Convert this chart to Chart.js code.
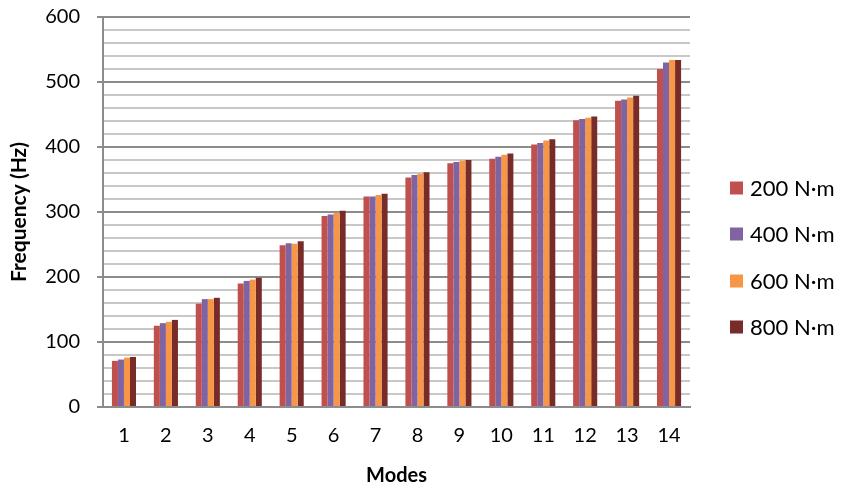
<!DOCTYPE html>
<html>
<head>
<meta charset="utf-8">
<script src="https://cdn.jsdelivr.net/npm/chart.js@4/dist/chart.umd.min.js"></script>
<style>
  body { margin: 0; background: #ffffff; }
  canvas { display: block; }
</style>
</head>
<body>
<canvas id="chart" width="842" height="492"></canvas>
<script>
const MODES = ['1','2','3','4','5','6','7','8','9','10','11','12','13','14'];
const TORQUES = ['200 N·m', '400 N·m', '600 N·m', '800 N·m'];

const F_200 = [71, 125, 159, 190, 249, 294, 324, 353, 375, 382, 404, 441, 471, 520];
const F_400 = [73, 129, 166, 194, 252, 296, 324, 357, 377, 385, 406, 443, 473, 530];
const F_600 = [76, 131, 166, 196, 251, 299, 326, 359, 379, 388, 410, 445, 476, 534];
const F_800 = [77, 134, 168, 199, 255, 302, 328, 361, 380, 390, 412, 447, 479, 534];

const COLORES = ['#c0504d', '#8064a2', '#f79646', '#772c2a'];

const FUENTE = "Lato, 'Noto Sans', sans-serif";
const GRIS_MAYOR = '#8c8c8c';
const GRIS_MENOR = '#c8c8c8';

// leyenda dibujada a mano a la derecha
const leyendaDerecha = {
  id: 'leyendaDerecha',
  afterDraw(chart) {
    const ctx = chart.ctx;
    const ys = [188, 234, 281, 327];
    ctx.save();
    ctx.font = `22px ${FUENTE}`;
    ctx.textBaseline = 'middle';
    ctx.textAlign = 'left';
    chart.data.datasets.forEach((ds, i) => {
      ctx.fillStyle = ds.backgroundColor;
      ctx.fillRect(730, ys[i] - 6.5, 13, 13);
      ctx.fillStyle = '#000000';
      ctx.fillText(ds.label, 750, ys[i] + 1);
    });
    ctx.restore();
  }
};

const series = [F_200, F_400, F_600, F_800];

new Chart(document.getElementById('chart'), {
  type: 'bar',
  data: {
    labels: MODES,
    datasets: series.map((s, i) => ({
      label: TORQUES[i],
      data: s,
      backgroundColor: COLORES[i],
      borderWidth: 0,
      barPercentage: 1,
      categoryPercentage: 0.575,
    }))
  },
  options: {
    responsive: false,
    animation: false,
    layout: { padding: { left: 0, right: 152, top: 17, bottom: 0 } },
    plugins: { legend: { display: false }, tooltip: { enabled: false } },
    scales: {
      x: {
        grid: { display: false, drawTicks: false },
        border: { display: true, color: GRIS_MAYOR, width: 2 },
        ticks: { color: '#000', font: { family: FUENTE, size: 20 }, padding: 17, autoSkip: false, maxRotation: 0 },
        title: { display: true, text: 'Modes', color: '#000', font: { family: FUENTE, size: 20, weight: 'bold' }, padding: { top: 3 } },
        afterFit: s => { s.height = 85; s.paddingLeft = 0; s.paddingRight = 0; }
      },
      y: {
        min: 0, max: 600,
        ticks: {
          stepSize: 20,
          autoSkip: false,
          color: '#000',
          font: { family: FUENTE, size: 20 },
          padding: 17,
          callback: v => (v % 100 === 0 ? v : '')
        },
        grid: {
          color: c => (c.tick && c.tick.value % 100 === 0 ? GRIS_MAYOR : GRIS_MENOR),
          tickColor: c => (c.tick && c.tick.value % 100 === 0 ? GRIS_MAYOR : 'rgba(0,0,0,0)'),
          lineWidth: 2,
          tickLength: 6
        },
        border: { display: true, color: GRIS_MAYOR, width: 2 },
        title: { display: true, text: 'Frequency (Hz)', color: '#000', font: { family: FUENTE, size: 21, weight: 'bold' }, padding: { top: 7 } },
        afterFit: s => { s.width = 103; s.paddingTop = 0; s.paddingBottom = 0; }
      }
    }
  },
  plugins: [leyendaDerecha]
});
</script>
</body>
</html>
